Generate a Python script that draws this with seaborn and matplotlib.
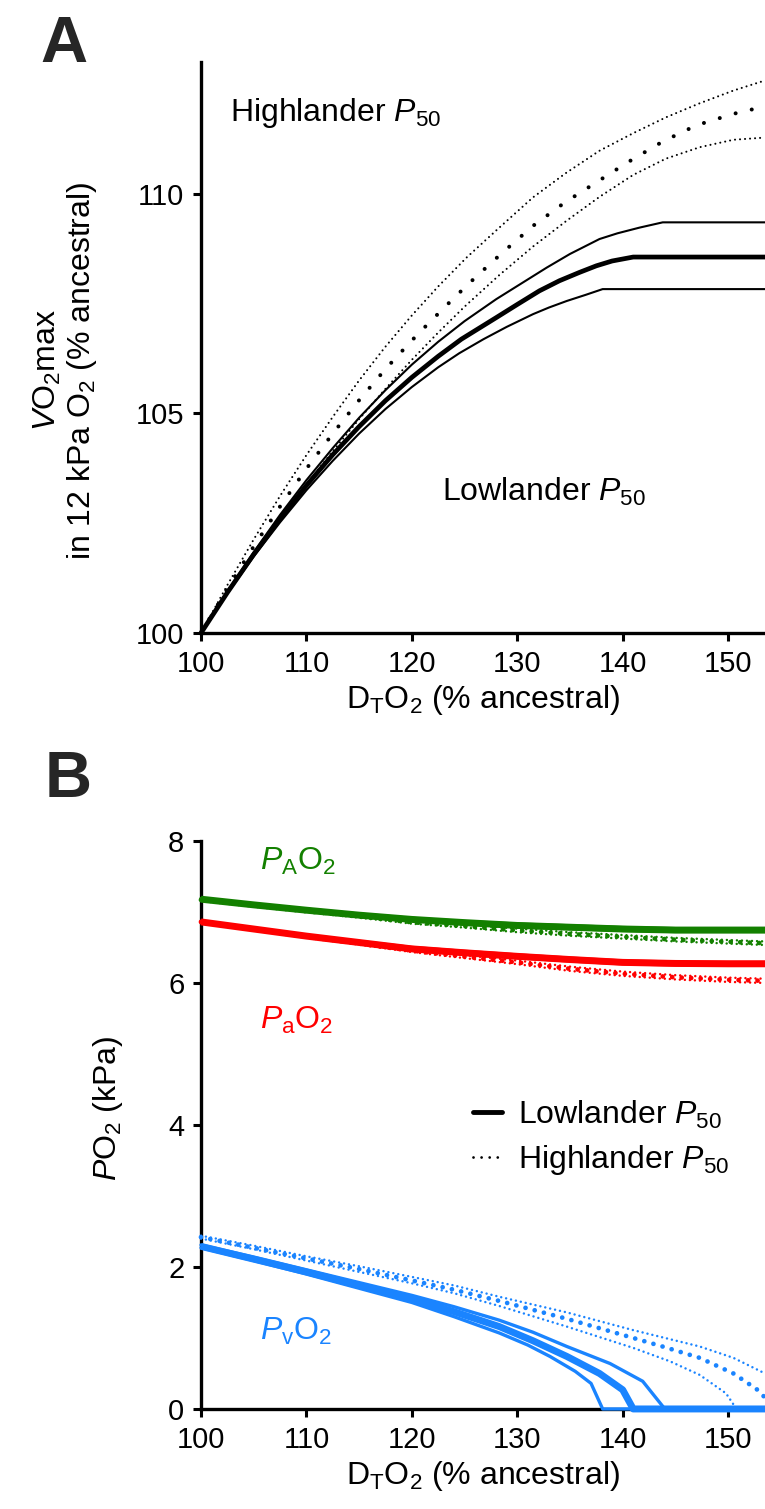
import matplotlib
matplotlib.use("Agg")
import matplotlib.pyplot as plt
import seaborn as sns
from matplotlib.lines import Line2D

# ---- Panel A: VO2max in 12 kPa O2 vs DTO2 (both % ancestral) ----
# lowlander P50 (solid): mean and the two bounds
lo_mid_x = [100, 102.5, 105, 107.5, 110, 112.5, 115, 117.5, 120, 122.5, 124.7, 128, 130,
            132.1, 134, 135.9, 137.5, 139, 141, 153.5]
lo_mid_y = [100, 100.92, 101.79, 102.60, 103.36, 104.06, 104.70, 105.29, 105.82, 106.30,
            106.69, 107.18, 107.48, 107.79, 108.02, 108.21, 108.36, 108.47, 108.56, 108.56]
lo_hi_x = [100, 102.5, 105, 107.5, 110, 112.5, 115, 117.5, 120, 122.5, 125, 128, 130,
           132.8, 135, 137.8, 139.5, 141.6, 143.8, 153.5]
lo_hi_y = [100, 100.95, 101.84, 102.69, 103.48, 104.21, 104.90, 105.53, 106.11, 106.63,
           107.10, 107.60, 107.90, 108.32, 108.63, 108.97, 109.10, 109.23, 109.35, 109.35]
lo_lo_x = [100, 102.5, 105, 107.5, 110, 112.5, 115, 117.5, 120, 122.5, 124.5, 126.8, 129,
           131.5, 133, 134.7, 136.5, 138.1, 153.5]
lo_lo_y = [100, 100.90, 101.74, 102.52, 103.25, 103.92, 104.54, 105.10, 105.60, 106.05,
           106.37, 106.69, 106.97, 107.26, 107.41, 107.56, 107.70, 107.83, 107.83]

# highlander P50 (dotted)
hi_mid_x = [100, 102.5, 105, 107.5, 110, 112.5, 115, 117.5, 120, 121.5, 124, 126, 128.5,
            131.5, 134.5, 137.5, 140.5, 143.8, 147, 150.5, 153.5]
hi_mid_y = [100, 101.01, 101.97, 102.88, 103.74, 104.54, 105.30, 106.01, 106.66, 107.03,
            107.63, 108.09, 108.64, 109.27, 109.80, 110.26, 110.72, 111.19, 111.56, 111.82,
            111.99]
hi_hi_x = [100, 102.5, 105, 107.5, 110, 112.5, 115, 117.5, 120, 122.5, 125.2, 128.3, 131.5,
           134.6, 137.8, 141, 144.1, 147.3, 150.5, 153.5]
hi_hi_y = [100, 101.09, 102.13, 103.12, 104.05, 104.92, 105.75, 106.52, 107.23, 107.89,
           108.55, 109.23, 109.92, 110.47, 110.98, 111.38, 111.74, 112.06, 112.35, 112.58]
hi_lo_x = [100, 102.5, 105, 107.5, 110, 112.5, 115, 117.5, 120, 122.5, 125, 128.3, 131.5,
           134.7, 137.8, 141, 144.1, 147.3, 150.5, 153.5]
hi_lo_y = [100, 100.90, 101.76, 102.59, 103.38, 104.14, 104.87, 105.56, 106.22, 106.84,
           107.43, 108.15, 108.80, 109.39, 109.93, 110.43, 110.80, 111.06, 111.23, 111.28]

# ---- Panel B: PO2 (kPa) vs DTO2 ----
gx = [100, 105, 110, 115, 120, 125, 130, 135, 140, 145, 150, 153.5]
pA_low_mid = [7.18, 7.10, 7.025, 6.955, 6.895, 6.85, 6.81, 6.785, 6.76, 6.745, 6.745, 6.745]
pA_low_hi = [7.19, 7.11, 7.04, 6.97, 6.91, 6.865, 6.83, 6.805, 6.78, 6.765, 6.765, 6.765]
pA_low_lo = [7.17, 7.09, 7.01, 6.94, 6.88, 6.835, 6.79, 6.765, 6.74, 6.725, 6.725, 6.725]
pA_high_mid = [7.17, 7.09, 7.01, 6.935, 6.855, 6.80, 6.74, 6.69, 6.65, 6.61, 6.58, 6.56]
pA_high_hi = [7.18, 7.10, 7.02, 6.95, 6.875, 6.82, 6.765, 6.715, 6.675, 6.635, 6.605, 6.585]
pA_high_lo = [7.16, 7.08, 7.00, 6.92, 6.835, 6.78, 6.715, 6.665, 6.625, 6.585, 6.555, 6.535]

pa_low_mid = [6.86, 6.76, 6.66, 6.57, 6.48, 6.425, 6.375, 6.33, 6.29, 6.275, 6.27, 6.27]
pa_low_hi = [6.87, 6.77, 6.67, 6.585, 6.50, 6.445, 6.395, 6.35, 6.31, 6.295, 6.29, 6.29]
pa_low_lo = [6.85, 6.75, 6.65, 6.555, 6.46, 6.405, 6.355, 6.31, 6.27, 6.255, 6.25, 6.25]
pa_high_mid = [6.86, 6.755, 6.65, 6.555, 6.455, 6.37, 6.29, 6.20, 6.13, 6.08, 6.045, 6.03]
pa_high_hi = [6.87, 6.765, 6.665, 6.57, 6.475, 6.39, 6.315, 6.23, 6.16, 6.11, 6.075, 6.06]
pa_high_lo = [6.85, 6.745, 6.635, 6.54, 6.435, 6.35, 6.265, 6.17, 6.10, 6.05, 6.015, 6.00]

pv_low_mid_x = [100, 105, 110, 115, 120, 124, 128.3, 131.5, 134.7, 137.8, 140.0, 141.0, 153.5]
pv_low_mid_y = [2.29, 2.11, 1.93, 1.74, 1.55, 1.37, 1.16, 0.96, 0.74, 0.50, 0.27, 0, 0]
pv_low_hi_x = [100, 105, 110, 115, 120, 124, 128.3, 131.5, 134.7, 138.8, 141.9, 144.0, 153.5]
pv_low_hi_y = [2.31, 2.14, 1.96, 1.78, 1.60, 1.44, 1.25, 1.08, 0.88, 0.64, 0.39, 0, 0]
pv_low_lo_x = [100, 105, 110, 115, 120, 124, 128.3, 131, 133.1, 135.5, 137.0, 138.1, 153.5]
pv_low_lo_y = [2.27, 2.09, 1.90, 1.70, 1.50, 1.30, 1.07, 0.90, 0.74, 0.53, 0.36, 0, 0]
pv_high_mid_x = [100, 105, 110, 115, 120, 124, 128.6, 134.7, 141.0, 144, 147.3, 150.5,
                 152.7, 153.5]
pv_high_mid_y = [2.42, 2.27, 2.12, 1.97, 1.81, 1.68, 1.51, 1.27, 1.00, 0.87, 0.72, 0.50,
                 0.28, 0.16]
pv_high_hi_x = [100, 105, 110, 115, 120, 124, 128.3, 134.7, 141.0, 147.3, 150.5, 153.5]
pv_high_hi_y = [2.44, 2.30, 2.15, 2.01, 1.86, 1.74, 1.58, 1.36, 1.11, 0.88, 0.72, 0.50]
pv_high_lo_x = [100, 105, 110, 115, 120, 124, 128.3, 134.7, 141.0, 144.5, 147.3, 149.8,
                150.8, 153.5]
pv_high_lo_y = [2.40, 2.25, 2.09, 1.93, 1.77, 1.63, 1.45, 1.16, 0.86, 0.67, 0.48, 0.22,
                0, 0]

x_ticks = [100, 110, 120, 130, 140, 150]
a_yticks = [100, 105, 110]
b_yticks = [0, 2, 4, 6, 8]

GREEN = "#138000"
RED = "#ff0000"
BLUE = "#1a84ff"

sns.set_style("ticks")
plt.rcParams["font.family"] = ["Liberation Sans", "DejaVu Sans"]
plt.rcParams["mathtext.fontset"] = "custom"
plt.rcParams["mathtext.rm"] = "Liberation Sans"
plt.rcParams["mathtext.it"] = "Liberation Sans:italic"
plt.rcParams["mathtext.bf"] = "Liberation Sans:bold"
plt.rcParams["text.color"] = "black"
plt.rcParams["axes.labelcolor"] = "black"

# line styles: thick / thin solid, big / small dots
THICK = dict(linewidth=3.4, linestyle="-", solid_capstyle="butt")
THIN = dict(linewidth=1.5, linestyle="-")
BIGDOT = dict(linewidth=2.9, linestyle=(0, (0.01, 4.1)), dash_capstyle="round")
SMALLDOT = dict(linewidth=1.5, linestyle=(0, (0.01, 2.4)), dash_capstyle="round")


def line(ax, x, y, color, style):
    sns.lineplot(x=x, y=y, ax=ax, color=color, zorder=3, clip_on=False, **style)


fig = plt.figure(figsize=(7.65, 15.09), dpi=100)
axA = fig.add_axes([0.2627, 0.5805, 0.7373, 0.3784])
axB = fig.add_axes([0.2627, 0.0663, 0.7373, 0.3764])

# Panel A
line(axA, lo_hi_x, lo_hi_y, "black", THIN)
line(axA, lo_lo_x, lo_lo_y, "black", THIN)
line(axA, lo_mid_x, lo_mid_y, "black", THICK)
line(axA, hi_hi_x, hi_hi_y, "black", SMALLDOT)
line(axA, hi_lo_x, hi_lo_y, "black", SMALLDOT)
line(axA, hi_mid_x, hi_mid_y, "black", BIGDOT)

axA.set_xlim(100, 153.5)
axA.set_ylim(100, 113)
axA.set_xticks(x_ticks)
axA.set_yticks(a_yticks)
axA.set_xlabel("D$_\\mathrm{T}$O$_2$ (% ancestral)", fontsize=23)
axA.set_ylabel("$\\mathit{V}$O$_2$max\nin 12 kPa O$_2$ (% ancestral)", fontsize=23,
               linespacing=1.1)
axA.yaxis.set_label_coords(-0.18, 0.46)
axA.text(102.8, 111.66, "Highlander $P_{50}$", fontsize=23, va="baseline")
axA.text(122.9, 103.0, "Lowlander $P_{50}$", fontsize=23, va="baseline")

# Panel B
B_THICK = dict(linewidth=5.0, linestyle="-", solid_capstyle="butt")
B_THIN = dict(linewidth=2.4, linestyle="-")
B_BIGDOT = dict(linewidth=3.4, linestyle=(0, (0.01, 2.0)), dash_capstyle="round")
B_SMALLDOT = dict(linewidth=1.8, linestyle=(0, (0.01, 2.0)), dash_capstyle="round")

for col, mid, hi, lo in [(GREEN, pA_high_mid, pA_high_hi, pA_high_lo),
                         (RED, pa_high_mid, pa_high_hi, pa_high_lo)]:
    line(axB, gx, hi, col, B_SMALLDOT)
    line(axB, gx, lo, col, B_SMALLDOT)
    line(axB, gx, mid, col, B_BIGDOT)
for col, mid, hi, lo in [(GREEN, pA_low_mid, pA_low_hi, pA_low_lo),
                         (RED, pa_low_mid, pa_low_hi, pa_low_lo)]:
    line(axB, gx, hi, col, B_THIN)
    line(axB, gx, lo, col, B_THIN)
    line(axB, gx, mid, col, B_THICK)

line(axB, pv_high_hi_x, pv_high_hi_y, BLUE, B_SMALLDOT)
line(axB, pv_high_lo_x, pv_high_lo_y, BLUE, B_SMALLDOT)
line(axB, pv_high_mid_x, pv_high_mid_y, BLUE, B_BIGDOT)
line(axB, pv_low_hi_x, pv_low_hi_y, BLUE, B_THIN)
line(axB, pv_low_lo_x, pv_low_lo_y, BLUE, B_THIN)
line(axB, pv_low_mid_x, pv_low_mid_y, BLUE, B_THICK)

axB.set_xlim(100, 153.5)
axB.set_ylim(0, 8)
axB.set_xticks(x_ticks)
axB.set_yticks(b_yticks)
axB.set_xlabel("D$_\\mathrm{T}$O$_2$ (% ancestral)", fontsize=23)
axB.set_ylabel("$P$O$_2$ (kPa)", fontsize=23)
axB.yaxis.set_label_coords(-0.135, 0.53)
axB.text(105.6, 7.59, "$P_\\mathrm{A}$O$_2$", color=GREEN, fontsize=23, va="baseline")
axB.text(105.6, 5.35, "$P_\\mathrm{a}$O$_2$", color=RED, fontsize=23, va="baseline")
axB.text(105.6, 0.97, "$P_\\mathrm{v}$O$_2$", color=BLUE, fontsize=23, va="baseline")

handles = [Line2D([], [], color="black", linewidth=3.5),
           Line2D([], [], color="black", linewidth=2.0, linestyle=(0, (0.01, 2.9)),
                  dash_capstyle="round")]
axB.legend(handles, ["Lowlander $P_{50}$", "Highlander $P_{50}$"],
           loc="center left", bbox_to_anchor=(0.482, 0.477), frameon=False,
           fontsize=23, handlelength=0.9, handletextpad=0.5, borderpad=0,
           borderaxespad=0, labelspacing=0.4)

for ax in (axA, axB):
    sns.despine(ax=ax)
    for side in ("left", "bottom"):
        ax.spines[side].set_linewidth(2.4)
        ax.spines[side].set_color("black")
    ax.tick_params(axis="both", labelsize=21, width=2.2, length=6, pad=6,
                   color="black", labelcolor="black")

fig.text(40 / 765, 1 - 62 / 1509, "A", fontsize=47, fontweight="bold",
         color="#262626", va="baseline")
fig.text(45 / 765, 1 - 797 / 1509, "B", fontsize=47, fontweight="bold",
         color="#262626", va="baseline")

fig.savefig("out.png", dpi=100)
